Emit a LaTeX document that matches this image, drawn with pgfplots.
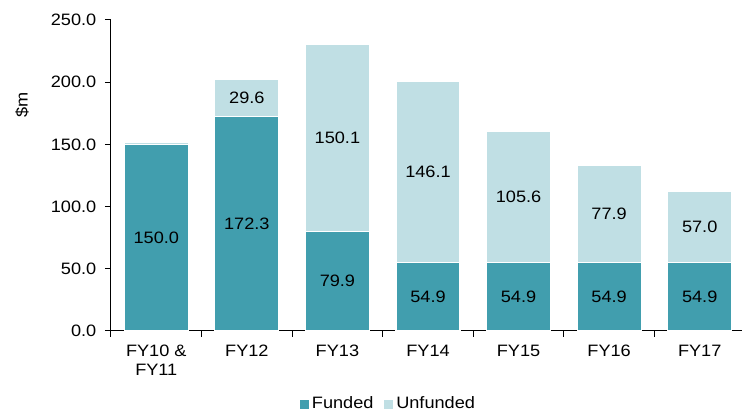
\documentclass[border=0pt]{standalone}
\usepackage{fontspec}
\setmainfont{Liberation Sans}[FakeStretch=1.1]
\usepackage{pgfplots}
\usepackage{pgfplotstable}
\pgfplotsset{compat=1.18}
\definecolor{funded}{RGB}{65,158,174}
\definecolor{unfunded}{RGB}{192,223,228}
\newcommand{\lblfont}{\fontsize{16.5}{19}\selectfont}
\pgfplotstableread{
x funded unfunded
0 150.0 1.8
1 172.3 29.6
2 79.9 150.1
3 54.9 146.1
4 54.9 105.6
5 54.9 77.9
6 54.9 57.0
}\datatable
\begin{document}
\lblfont
\begin{tikzpicture}[x=1pt,y=1pt]
\path[use as bounding box] (-111,-81) rectangle (631,331);
\begin{axis}[
  at={(0,0)}, anchor=south west,
  scale only axis, width=634pt, height=311pt,
  ybar stacked, bar width=64pt,
  xmin=-0.5, xmax=6.5, ymin=0, ymax=250,
  axis x line*=bottom, axis y line*=left,
  axis line style={black, line width=1pt, -},
  xtick={0,...,6},
  xticklabels={{FY10 \&\\FY11},FY12,FY13,FY14,FY15,FY16,FY17},
  x tick label style={align=center, font=\lblfont, yshift=-2pt},
  major x tick style={draw=none},
  minor xtick={-0.5,0.5,...,6.5},
  ytick={0,50,...,250},
  y tick label style={font=\lblfont, xshift=-3pt},
  yticklabel style={/pgf/number format/.cd, fixed, fixed zerofill, precision=1},
  /pgf/number format/assume math mode=true,
  tick align=outside, major tick length=6pt, minor tick length=6pt,
  tick style={black, line width=1pt},
  ylabel={\$m},
  every axis y label/.style={at={(rel axis cs:-0.1404,0.727)}, rotate=90, anchor=center, font=\lblfont},
  legend style={at={(rel axis cs:0.437,-0.235)}, anchor=center, draw=none, legend columns=2, font=\lblfont,
    /tikz/every even column/.append style={column sep=8pt}},
  legend image code/.code={\draw[#1, draw=white, line width=0.8pt] (0pt,-5pt) rectangle (10pt,5pt);},
  nodes near coords={\ifdim\rawy pt<10pt\relax\else\pgfmathprintnumber[fixed,fixed zerofill,precision=1]{\rawy}\fi},
  every node near coord/.append style={anchor=center, font=\lblfont, black},
]
\addplot[fill=funded, draw=white, line width=1.2pt,
  visualization depends on={\thisrow{funded} \as \rawy}] table[x=x, y=funded] {\datatable};
\addplot[fill=unfunded, draw=white, line width=1.2pt,
  visualization depends on={\thisrow{unfunded} \as \rawy}] table[x=x, y=unfunded] {\datatable};
\legend{Funded, Unfunded}
\end{axis}
\end{tikzpicture}
\end{document}
